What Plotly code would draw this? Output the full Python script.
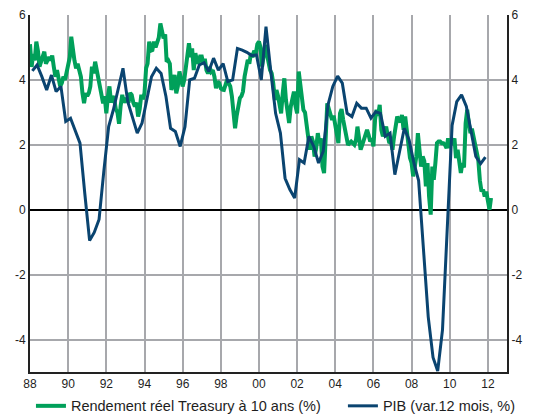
import plotly.graph_objects as go
import pandas as pd

# Rendement réel du Treasury 10 ans (%), mensuel, janv. 1988 -> mars 2012
rendement = [
    5.1, 4.4, 4.8, 4.6, 5.18, 4.9, 4.41, 4.6, 4.7, 4.87, 4.5, 4.62,      # 1988
    4.7, 4.6, 4.75, 4.4, 4.1, 4.3, 3.95, 3.8, 3.9, 4.1, 4.0, 4.2,        # 1989
    4.51, 4.7, 5.33, 4.82, 4.6, 4.36, 4.5, 4.3, 4.1, 3.6, 3.28, 3.59,    # 1990
    3.5, 3.6, 3.8, 4.41, 4.2, 4.56, 4.3, 4.1, 3.9, 3.6, 3.28, 3.5,       # 1991
    2.97, 3.49, 3.8, 3.3, 3.5, 3.4, 3.1, 3.0, 2.65, 3.2, 3.54, 3.3,      # 1992
    3.4, 3.38, 3.3, 3.6, 3.54, 3.3, 3.18, 3.3, 2.87, 3.1, 3.54, 3.4,     # 1993
    3.6, 4.36, 4.5, 5.18, 4.9, 4.92, 5.18, 5.0, 5.2, 5.3, 5.74, 5.5,     # 1994
    5.28, 5.4, 4.56, 4.6, 4.5, 3.69, 4.0, 4.15, 3.59, 3.8, 4.26, 4.0,    # 1995
    3.8, 4.0, 4.41, 4.82, 5.13, 4.7, 4.97, 4.3, 4.82, 4.6, 4.5, 4.72,    # 1996
    4.72, 4.5, 4.65, 4.3, 4.2, 4.4, 4.25, 4.3, 4.1, 3.74, 3.95, 3.9,     # 1997
    3.74, 3.7, 3.69, 3.85, 4.0, 3.9, 3.8, 3.5, 3.08, 2.51, 2.9, 3.18,    # 1998
    3.44, 3.5, 3.64, 4.1, 4.3, 4.62, 4.5, 4.82, 4.7, 4.9, 4.8, 5.1,      # 1999
    5.18, 5.0, 4.41, 4.7, 5.08, 4.8, 4.46, 4.3, 4.2, 3.9, 3.38, 3.69,    # 2000
    3.5, 3.28, 2.97, 3.6, 4.05, 3.38, 3.1, 2.67, 3.18, 3.4, 3.64, 3.2,   # 2001
    2.97, 4.26, 3.9, 3.69, 3.08, 3.0, 2.62, 2.3, 1.85, 2.26, 2.1, 1.64,  # 2002
    1.9, 2.36, 2.05, 2.2, 1.33, 1.13, 2.5, 3.28, 3.1, 2.87, 2.77, 2.9,   # 2003
    2.56, 2.3, 2.05, 2.97, 3.1, 2.77, 2.5, 2.15, 2.0, 2.05, 2.1, 2.05,   # 2004
    2.0, 2.15, 2.56, 2.2, 1.85, 2.0, 2.15, 2.26, 2.46, 2.3, 2.1, 2.2,    # 2005
    1.95, 2.77, 3.08, 2.9, 3.23, 2.46, 2.26, 2.4, 2.56, 2.3, 2.05, 2.1,  # 2006
    1.85, 2.26, 2.5, 2.87, 2.77, 2.7, 2.92, 2.46, 2.87, 2.4, 1.85, 1.6,  # 2007
    1.44, 1.03, 1.3, 1.64, 2.36, 1.9, 1.33, 1.64, 1.5, 0.72, 1.44, 0.41, # 2008
    -0.15, 1.33, 0.92, 1.44, 2.05, 2.1, 2.1, 2.05, 2.05, 2.0, 1.9, 2.2,  # 2009
    1.9, 2.2, 2.0, 2.2, 1.59, 1.85, 1.5, 1.13, 1.44, 1.3, 2.67, 3.08,    # 2010
    2.67, 2.36, 2.5, 2.26, 2.05, 1.85, 1.54, 0.9, 0.56, 0.62, 0.41, 0.56,# 2011
    0.2, 0.0, 0.36,                                                      # 2012
]

# PIB, variation sur 12 mois (%), trimestriel, 1988T1 -> 2011T4
pib = [
    4.28, 4.46, 4.1, 3.69,     # 1988
    4.15, 3.64, 3.8, 2.72,     # 1989
    2.82, 2.46, 2.05, 0.5,     # 1990
    -0.95, -0.7, -0.3, 1.2,    # 1991
    2.56, 3.08, 3.7, 4.36,     # 1992
    3.33, 2.85, 2.36, 2.67,    # 1993
    3.4, 4.1, 4.36, 4.2,       # 1994
    3.5, 2.51, 2.41, 1.95,     # 1995
    2.56, 4.0, 4.05, 4.46,     # 1996
    4.53, 4.26, 4.67, 4.3,     # 1997
    4.5, 3.95, 4.0, 4.97,      # 1998
    4.92, 4.85, 4.75, 4.77,    # 1999
    4.0, 5.64, 4.26, 2.97,     # 2000
    2.36, 0.97, 0.62, 0.36,    # 2001
    1.54, 1.44, 2.26, 1.95,    # 2002
    1.44, 1.8, 3.23, 3.8,      # 2003
    4.12, 3.9, 2.97, 2.87,     # 2004
    3.28, 3.13, 3.13, 2.82,    # 2005
    3.02, 2.97, 2.26, 2.36,    # 2006
    1.08, 1.74, 2.51, 2.15,    # 2007
    1.44, 0.9, -1.2, -3.3,     # 2008
    -4.55, -4.97, -3.7, -0.5,  # 2009
    2.6, 3.33, 3.54, 3.18,     # 2010
    2.36, 1.64, 1.42, 1.62,    # 2011
]

y_ticks = [-4, -2, 0, 2, 4, 6]
y_labels = ["-4", "-2", "0", "2", "4", "6"]

dates_mois = pd.date_range("1988-01-01", periods=len(rendement), freq="MS")
dates_trim = [f"{y}-{m:02d}-15" for y in range(1988, 2012) for m in (2, 5, 8, 11)]

vert = "#00a05a"
bleu = "#0a4470"
grille = "#a7a8ac"
texte = "#1e1e1e"

fig = go.Figure()
fig.add_trace(go.Scatter(
    x=dates_mois, y=rendement, mode="lines",
    name="Rendement réel Treasury à 10 ans (%)",
    line=dict(color=vert, width=4),
    legend="legend",
))
fig.add_trace(go.Scatter(
    x=dates_trim, y=pib, mode="lines",
    name="PIB (var.12 mois, %)",
    line=dict(color=bleu, width=3),
    yaxis="y2",
    legend="legend2",
))

yax = dict(
    range=[-5, 6], tickvals=y_ticks, ticktext=y_labels,
    showgrid=True, gridcolor=grille, gridwidth=2,
    zeroline=True, zerolinecolor="#000000", zerolinewidth=1.5,
    showline=True, linecolor="#222222", linewidth=2,
    ticks="", tickfont=dict(size=12, color=texte),
    fixedrange=True,
)

# la page html ajoute une marge de 8 px autour du graphique
fig.update_layout(
    width=537, height=410,
    margin=dict(l=22, r=38, t=7, b=46, autoexpand=False),
    plot_bgcolor="white", paper_bgcolor="white",
    font=dict(family="Arial, Liberation Sans, sans-serif", size=12, color=texte),
    xaxis=dict(
        type="date", range=["1988-01-01", "2013-01-01"],
        tick0="1988-01-01", dtick="M24", tickformat="%y",
        showgrid=True, gridcolor=grille, gridwidth=2,
        showline=True, linecolor="#222222", linewidth=2,
        ticks="", tickfont=dict(size=12, color=texte),
    ),
    yaxis=dict(yax, side="left"),
    yaxis2=dict(yax, side="right", overlaying="y", showgrid=False, zeroline=False),
    showlegend=True,
    legend=dict(
        orientation="h", x=0.002, y=-0.095, xanchor="left", yanchor="middle",
        font=dict(size=14.5, color=texte), bgcolor="rgba(0,0,0,0)",
    ),
    legend2=dict(
        orientation="h", x=0.656, y=-0.095, xanchor="left", yanchor="middle",
        font=dict(size=14.5, color=texte), bgcolor="rgba(0,0,0,0)",
    ),
)

fig.write_html("out.html")
